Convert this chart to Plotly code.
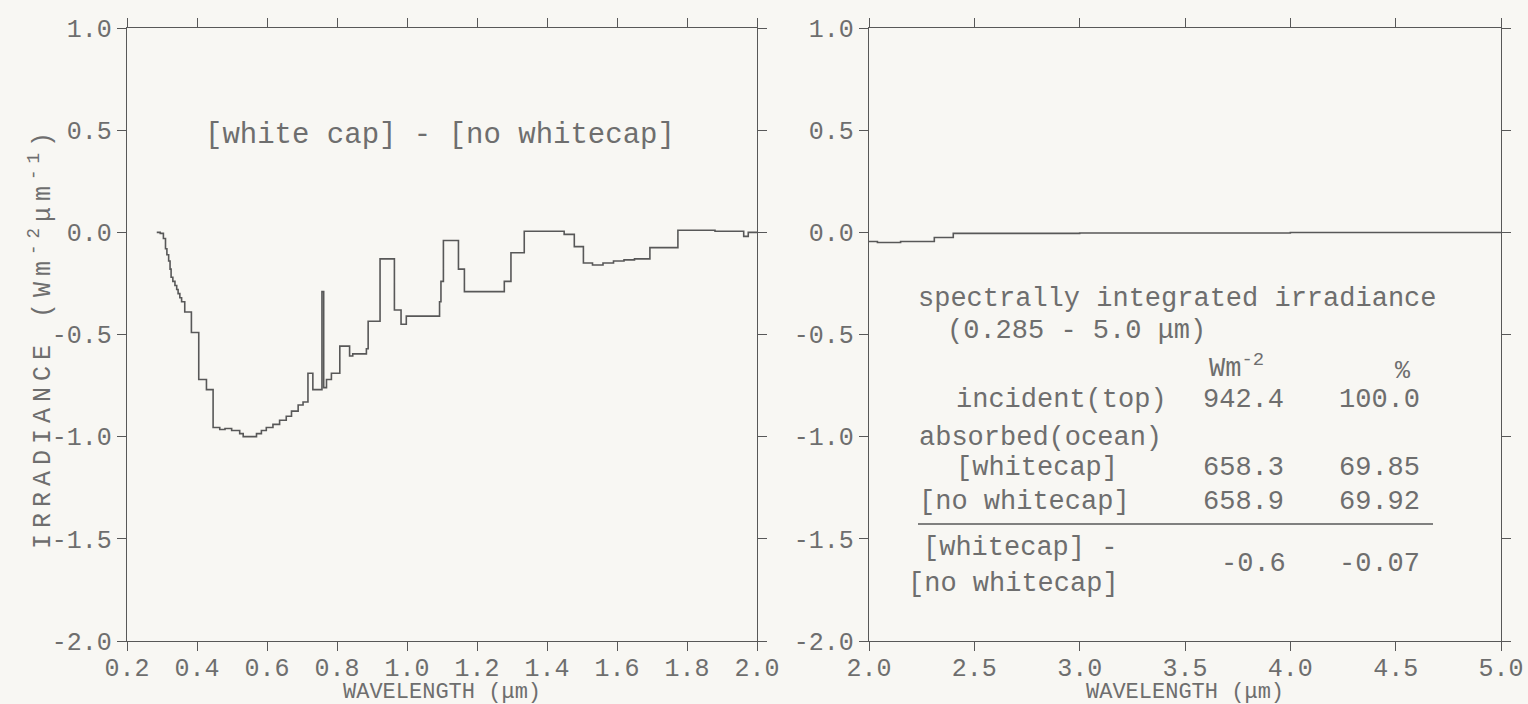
import plotly.graph_objects as go

# ---------------- data ----------------
# left panel: [white cap] - [no whitecap] spectral irradiance difference (step function)
wl_left = [0.285, 0.295, 0.304, 0.310, 0.314, 0.319, 0.323, 0.326, 0.331, 0.337,
           0.342, 0.346, 0.351, 0.356, 0.365, 0.384, 0.405, 0.427, 0.446, 0.465,
           0.480, 0.499, 0.522, 0.532, 0.570, 0.584, 0.598, 0.617, 0.636, 0.655,
           0.670, 0.689, 0.703, 0.717, 0.731, 0.757, 0.762, 0.770, 0.784, 0.808,
           0.836, 0.845, 0.884, 0.889, 0.923, 0.964, 0.983, 0.998, 1.093, 1.097,
           1.104, 1.147, 1.164, 1.278, 1.297, 1.335, 1.449, 1.478, 1.504, 1.530,
           1.560, 1.590, 1.620, 1.650, 1.694, 1.774, 1.880, 1.962, 1.975, 2.000]
irr_left = [0.00, -0.005, -0.03, -0.08, -0.11, -0.14, -0.18, -0.22, -0.24, -0.26,
            -0.28, -0.30, -0.32, -0.34, -0.39, -0.49, -0.72, -0.77, -0.955, -0.965,
            -0.96, -0.97, -0.985, -1.00, -0.985, -0.97, -0.955, -0.94, -0.92, -0.90,
            -0.875, -0.845, -0.83, -0.69, -0.77, -0.29, -0.76, -0.72, -0.69, -0.557,
            -0.605, -0.595, -0.57, -0.435, -0.13, -0.38, -0.45, -0.41, -0.34, -0.24,
            -0.04, -0.18, -0.29, -0.24, -0.10, 0.005, -0.01, -0.07, -0.15, -0.16,
            -0.15, -0.14, -0.135, -0.13, -0.075, 0.01, 0.005, -0.02, 0.00, 0.00]

# right panel
wl_right = [2.00, 2.04, 2.15, 2.31, 2.40, 3.00, 4.00, 5.00]
irr_right = [-0.045, -0.05, -0.045, -0.025, -0.005, -0.003, -0.001, 0.0]

x_ticks_left = [0.2, 0.4, 0.6, 0.8, 1.0, 1.2, 1.4, 1.6, 1.8, 2.0]
x_labels_left = ["0.2", "0.4", "0.6", "0.8", "1.0", "1.2", "1.4", "1.6", "1.8", "2.0"]
x_ticks_right = [2.0, 2.5, 3.0, 3.5, 4.0, 4.5, 5.0]
x_labels_right = ["2.0", "2.5", "3.0", "3.5", "4.0", "4.5", "5.0"]
y_ticks = [1.0, 0.5, 0.0, -0.5, -1.0, -1.5, -2.0]
y_labels = ["1.0", "0.5", "0.0", "-0.5", "-1.0", "-1.5", "-2.0"]

# table (spectrally integrated irradiance)
row_labels = ["incident(top)", "absorbed(ocean)", "[whitecap]", "[no whitecap]"]
row_wm2 = ["942.4", "", "658.3", "658.9"]
row_pct = ["100.0", "", "69.85", "69.92"]
diff_wm2 = "-0.6"
diff_pct = "-0.07"

# ---------------- style ----------------
W, H = 1528, 704
BG = "#f8f7f3"
LC = "#585858"
TC = "#6e6e6e"
FONT = "Liberation Mono, DejaVu Sans Mono, monospace"


def px(x):
    return x / W


def py(y):
    return 1 - y / H


fig = go.Figure()
fig.add_trace(go.Scatter(x=wl_left, y=irr_left, mode="lines", line=dict(color=LC, width=1.6, shape="hv"),
                         xaxis="x", yaxis="y", showlegend=False))
fig.add_trace(go.Scatter(x=wl_right, y=irr_right, mode="lines", line=dict(color=LC, width=1.6, shape="hv"),
                         xaxis="x2", yaxis="y2", showlegend=False))

axis_common = dict(showline=True, linecolor=LC, linewidth=1.4, mirror="ticks", ticks="outside",
                   tickwidth=1.4, tickcolor=LC, showgrid=False, zeroline=False,
                   tickfont=dict(family=FONT, size=25, color=TC), automargin=False)
xcommon = dict(ticklen=9, ticklabelstandoff=-5, **axis_common)
ycommon = dict(ticklen=9, **axis_common)

y_dom = [py(641), py(28)]
fig.update_layout(
    width=W, height=H,
    margin=dict(l=0, r=0, t=0, b=0),
    paper_bgcolor=BG, plot_bgcolor=BG,
    xaxis=dict(domain=[px(127), px(757)], range=[0.2, 2.0], tickvals=x_ticks_left, ticktext=x_labels_left,
               anchor="y", **xcommon),
    yaxis=dict(domain=y_dom, range=[-2.0, 1.0], tickvals=y_ticks, ticktext=y_labels, anchor="x", **ycommon),
    xaxis2=dict(domain=[px(869), px(1501)], range=[2.0, 5.0], tickvals=x_ticks_right, ticktext=x_labels_right,
                anchor="y2", **xcommon),
    yaxis2=dict(domain=y_dom, range=[-2.0, 1.0], tickvals=y_ticks, ticktext=y_labels, anchor="x2", **ycommon),
)

ann = []


def add_text(text, x, y, size=27, xanchor="left", angle=0):
    ann.append(dict(text=text, x=px(x), y=py(y), xref="paper", yref="paper", showarrow=False,
                    xanchor=xanchor, yanchor="middle", textangle=angle, borderpad=0,
                    font=dict(family=FONT, size=size, color=TC)))


# axis titles
add_text("WAVELENGTH (\u03bcm)", 442, 692, size=22, xanchor="center")
add_text("WAVELENGTH (\u03bcm)", 1185, 692, size=22, xanchor="center")
add_text('<span style="letter-spacing:6px">IRRADIANCE (Wm<sup>-2</sup>\u03bcm<sup>-1</sup>)</span>',
         41, 338, size=25, xanchor="center", angle=-90)

# left panel label
add_text("[white cap] - [no whitecap]", 440, 136, size=29, xanchor="center")

# right panel table
add_text("spectrally integrated irradiance", 917, 299)
add_text("(0.285 - 5.0 \u03bcm)", 946, 331)
add_text("Wm<sup>-2</sup>", 1208, 366)
add_text("%", 1394, 371, size=25)
row_y = [400, 438, 468, 502]
row_x = [955, 918, 955, 918]
for lab, v1, v2, yy, xx in zip(row_labels, row_wm2, row_pct, row_y, row_x):
    add_text(lab, xx, yy)
    if v1:
        add_text(v1, 1285, yy, xanchor="right")
    if v2:
        add_text(v2, 1421, yy, xanchor="right")
add_text("[whitecap] -", 922, 548)
add_text("[no whitecap]", 907, 584)
add_text(diff_wm2, 1287, 564, xanchor="right")
add_text(diff_pct, 1421, 564, xanchor="right")

fig.update_layout(annotations=ann)
fig.add_shape(type="line", xref="paper", yref="paper", x0=px(918), x1=px(1433), y0=py(524), y1=py(524),
              line=dict(color=LC, width=1.4))

fig.write_html("out.html", config={"displayModeBar": False},
               post_script="document.body.style.margin='0';document.body.style.overflow='hidden';"
                           "document.body.style.background='" + BG + "';")
